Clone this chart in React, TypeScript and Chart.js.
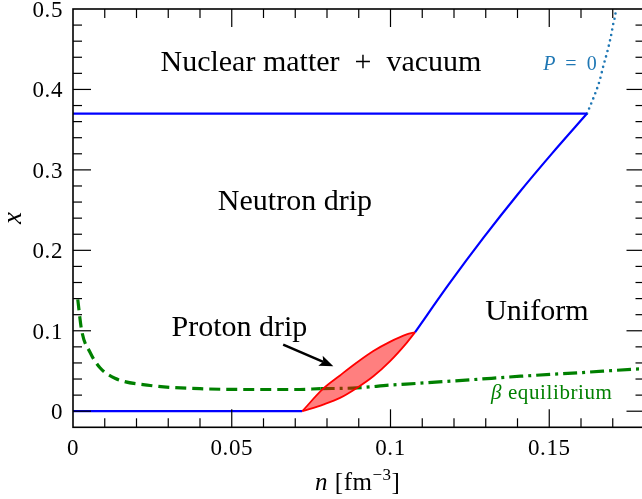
import React, { useEffect, useRef } from 'react';
import { Chart, registerables } from 'chart.js';

Chart.register(...registerables);

const FONT = '"Liberation Serif", "Times New Roman", serif';

// ---- axis setup ----
const xRange = [0, 0.18];
const yRange = [-0.02, 0.5];
const xTickValues = [0, 0.05, 0.1, 0.15];
const xTickLabels = ['0', '0.05', '0.1', '0.15'];
const yTickValues = [0, 0.1, 0.2, 0.3, 0.4, 0.5];
const yTickLabels = ['0', '0.1', '0.2', '0.3', '0.4', '0.5'];
const xMinorStep = 0.01;
const yMinorStep = 0.02;

// ---- data (n in fm^-3, x proton fraction) ----
// upper boundary of the neutron-drip region (nuclear matter + vacuum)
const vacuumLineN = [0, 0.1619];
const vacuumLineX = [0.37, 0.37];
// x = 0 line (pure neutron) up to onset of proton drip
const zeroLineN = [0, 0.0722];
const zeroLineX = [0, 0];
// boundary to uniform matter
const uniformN = [0.1077, 0.1185, 0.1293, 0.1401, 0.1509, 0.1619];
const uniformX = [0.098, 0.1585, 0.2157, 0.2697, 0.3205, 0.37];
// P = 0 curve (dotted)
const pZeroN = [0.1619, 0.1641, 0.1658, 0.167, 0.1683, 0.1694, 0.1702, 0.1708, 0.1713];
const pZeroX = [0.37, 0.3913, 0.41, 0.4286, 0.4472, 0.4658, 0.4824, 0.4928, 0.51];
// proton drip lens (upper and lower edges)
const dripUpperN = [0.0722, 0.0788, 0.0841, 0.0894, 0.0946, 0.0998, 0.1051, 0.1077];
const dripUpperX = [0, 0.028, 0.0445, 0.0605, 0.0748, 0.0862, 0.0955, 0.098];
const dripLowerN = [0.0722, 0.0788, 0.0841, 0.0894, 0.0946, 0.0998, 0.1051, 0.1077];
const dripLowerX = [0, 0.0083, 0.0166, 0.029, 0.0435, 0.062, 0.085, 0.098];
// beta equilibrium (dashed part, then dash-dot part)
const betaDashN = [0.0015, 0.0027, 0.0054, 0.0085, 0.0132, 0.0243, 0.04, 0.0557, 0.07, 0.078];
const betaDashX = [0.139, 0.101, 0.073, 0.054, 0.041, 0.032, 0.028, 0.027, 0.027, 0.028];
const betaDashDotN = [0.078, 0.0894, 0.1, 0.108, 0.125, 0.141, 0.16, 0.179, 0.181];
const betaDashDotX = [0.028, 0.029, 0.0325, 0.0345, 0.039, 0.0435, 0.048, 0.0527, 0.053];
// arrow pointing at the proton drip region
const arrowTail = [0.0662, 0.0829];
const arrowHead = [0.082, 0.0559];

const pts = (ns: number[], xs: number[]) => ns.map((n, i) => ({ x: n, y: xs[i] }));

type Seg = { t: string; italic?: boolean; size?: number; dy?: number };

function drawRich(
  ctx: CanvasRenderingContext2D,
  segs: Seg[],
  x: number,
  y: number,
  size: number,
  align: 'left' | 'center' | 'right',
  color: string,
  spacing = 0
) {
  const c = ctx as any;
  c.letterSpacing = `${spacing}px`;
  const fontOf = (s: Seg) => `${s.italic ? 'italic ' : ''}${s.size ?? size}px ${FONT}`;
  let total = 0;
  const widths = segs.map((s) => {
    ctx.font = fontOf(s);
    const w = ctx.measureText(s.t).width;
    total += w;
    return w;
  });
  let cx = align === 'center' ? x - total / 2 : align === 'right' ? x - total : x;
  ctx.fillStyle = color;
  ctx.textAlign = 'left';
  ctx.textBaseline = 'alphabetic';
  segs.forEach((s, i) => {
    ctx.font = fontOf(s);
    ctx.fillText(s.t, cx, y + (s.dy ?? 0));
    cx += widths[i];
  });
  c.letterSpacing = '0px';
}

const isMultiple = (v: number, step: number) => Math.abs(v / step - Math.round(v / step)) < 1e-6;

const overlayPlugin = {
  id: 'overlay',
  afterDraw(chart: any) {
    const { ctx, chartArea: a, scales } = chart;
    const xs = scales.x;
    const ys = scales.y;
    const X = (v: number) => xs.getPixelForValue(v);
    const Y = (v: number) => ys.getPixelForValue(v);
    ctx.save();

    // arrow
    const x0 = X(arrowTail[0]), y0 = Y(arrowTail[1]);
    const x1 = X(arrowHead[0]), y1 = Y(arrowHead[1]);
    const ang = Math.atan2(y1 - y0, x1 - x0);
    const hl = 14, hw = 5.5;
    const cs = Math.cos(ang), sn = Math.sin(ang);
    const bx = x1 - hl * cs, by = y1 - hl * sn;
    ctx.strokeStyle = '#000';
    ctx.fillStyle = '#000';
    ctx.lineWidth = 2.5;
    ctx.beginPath();
    ctx.moveTo(x0, y0);
    ctx.lineTo(bx + 3 * cs, by + 3 * sn);
    ctx.stroke();
    ctx.beginPath();
    ctx.moveTo(x1, y1);
    ctx.lineTo(bx - hw * sn, by + hw * cs);
    ctx.lineTo(bx + 3 * cs, by + 3 * sn);
    ctx.lineTo(bx + hw * sn, by - hw * cs);
    ctx.closePath();
    ctx.fill();

    // frame
    ctx.strokeStyle = '#000';
    ctx.lineWidth = 1.6;
    ctx.strokeRect(a.left, a.top, a.right - a.left, a.bottom - a.top);

    // inward ticks on all four sides
    ctx.lineWidth = 1.2;
    const seg = (ax: number, ay: number, bx2: number, by2: number) => {
      ctx.beginPath();
      ctx.moveTo(ax, ay);
      ctx.lineTo(bx2, by2);
      ctx.stroke();
    };
    const nx = Math.round((xRange[1] - xRange[0]) / xMinorStep);
    for (let i = 0; i <= nx; i++) {
      const v = xRange[0] + i * xMinorStep;
      const p = X(v);
      if (p <= a.left + 0.5 || p >= a.right - 0.5) continue;
      const L = isMultiple(v, 0.05) ? 18 : 9;
      seg(p, a.bottom, p, a.bottom - L);
      seg(p, a.top, p, a.top + L);
    }
    const ny = Math.round((yRange[1] - yRange[0]) / yMinorStep);
    for (let i = 0; i <= ny; i++) {
      const v = yRange[0] + i * yMinorStep;
      const p = Y(v);
      if (p <= a.top + 0.5 || p >= a.bottom - 0.5) continue;
      const L = isMultiple(v, 0.1) ? 18 : 9;
      seg(a.left, p, a.left + L, p);
      seg(a.right, p, a.right - L, p);
    }

    // tick labels
    xTickValues.forEach((v, i) =>
      drawRich(ctx, [{ t: xTickLabels[i] }], X(v), a.bottom + 28, 23, 'center', '#000', 0.6)
    );
    yTickValues.forEach((v, i) =>
      drawRich(ctx, [{ t: yTickLabels[i] }], a.left - 10, Y(v) + 8, 23, 'right', '#000', 0.6)
    );

    // axis titles
    drawRich(
      ctx,
      [{ t: 'n', italic: true }, { t: ' [fm' }, { t: '\u22123', size: 17, dy: -10 }, { t: ']' }],
      (a.left + X(0.18)) / 2 - 1,
      a.bottom + 63,
      25,
      'center',
      '#000',
      0.5
    );
    ctx.save();
    ctx.translate(14, 218);
    ctx.rotate(-Math.PI / 2);
    ctx.font = `italic 27px ${FONT}`;
    ctx.textAlign = 'center';
    ctx.textBaseline = 'middle';
    ctx.fillStyle = '#000';
    ctx.fillText('x', 0, 0);
    ctx.restore();

    // region annotations
    drawRich(ctx, [{ t: 'Nuclear matter \u2005+\u2005 vacuum' }], X(0.0781), Y(0.4224), 30, 'center', '#000');
    drawRich(ctx, [{ t: 'Neutron drip' }], X(0.0699), Y(0.2505), 30, 'center', '#000');
    drawRich(ctx, [{ t: 'Proton drip' }], X(0.0524), Y(0.0932), 30, 'center', '#000');
    drawRich(ctx, [{ t: 'Uniform' }], X(0.1461), Y(0.1139), 30, 'center', '#000');
    drawRich(
      ctx,
      [{ t: 'P', italic: true }, { t: '\u2002=\u20020' }],
      X(0.1565),
      Y(0.4245),
      20,
      'center',
      '#1f77b4'
    );
    drawRich(
      ctx,
      [{ t: '\u03b2', italic: true }, { t: ' equilibrium' }],
      X(0.1508),
      Y(0.0146),
      21,
      'center',
      '#008000',
      0.6
    );

    ctx.restore();
  },
};

const CANVAS_W = 656;
const CANVAS_H = 499;

export default function App() {
  const ref = useRef<HTMLCanvasElement>(null);
  useEffect(() => {
    const line = { showLine: true, pointRadius: 0, pointHoverRadius: 0, cubicInterpolationMode: 'monotone' };
    const chart = new Chart(ref.current as HTMLCanvasElement, {
      type: 'scatter',
      data: {
        datasets: [
          {
            ...line,
            label: 'proton drip upper',
            data: pts(dripUpperN, dripUpperX),
            borderColor: '#ff0000',
            borderWidth: 1.8,
            backgroundColor: 'rgba(255,0,0,0.5)',
            fill: '+1',
          },
          {
            ...line,
            label: 'proton drip lower',
            data: pts(dripLowerN, dripLowerX),
            borderColor: '#ff0000',
            borderWidth: 1.8,
            fill: false,
          },
          { ...line, label: 'vacuum', data: pts(vacuumLineN, vacuumLineX), borderColor: '#0000ff', borderWidth: 2.2, fill: false },
          { ...line, label: 'zero', data: pts(zeroLineN, zeroLineX), borderColor: '#0000ff', borderWidth: 2.2, fill: false },
          { ...line, label: 'uniform', data: pts(uniformN, uniformX), borderColor: '#0000ff', borderWidth: 2.2, fill: false },
          {
            ...line,
            label: 'P=0',
            data: pts(pZeroN, pZeroX),
            borderColor: '#1f77b4',
            borderWidth: 2.6,
            borderDash: [0, 5.5],
            borderCapStyle: 'round',
            fill: false,
          },
          {
            ...line,
            label: 'beta dashed',
            data: pts(betaDashN, betaDashX),
            borderColor: '#008000',
            borderWidth: 3.2,
            borderDash: [11, 6],
            fill: false,
          },
          {
            ...line,
            label: 'beta dashdot',
            data: pts(betaDashDotN, betaDashDotX),
            borderColor: '#008000',
            borderWidth: 3.2,
            borderDash: [14, 5, 3, 5],
            fill: false,
          },
        ],
      },
      options: {
        animation: false,
        responsive: false,
        events: [],
        layout: { padding: { left: 73, top: 9, right: CANVAS_W - 644.5, bottom: CANVAS_H - 427.3 } },
        scales: {
          x: { type: 'linear', min: xRange[0], max: xRange[1], display: false },
          y: { type: 'linear', min: yRange[0], max: yRange[1], display: false },
        },
        plugins: { legend: { display: false }, tooltip: { enabled: false } },
      },
      plugins: [overlayPlugin],
    } as any);
    return () => chart.destroy();
  }, []);
  return (
    <div
      style={{
        position: 'fixed',
        left: 0,
        top: 0,
        width: 642,
        height: 499,
        overflow: 'hidden',
        background: '#fff',
      }}
    >
      <canvas
        ref={ref}
        width={CANVAS_W}
        height={CANVAS_H}
        style={{ display: 'block', width: CANVAS_W, height: CANVAS_H }}
      />
    </div>
  );
}
